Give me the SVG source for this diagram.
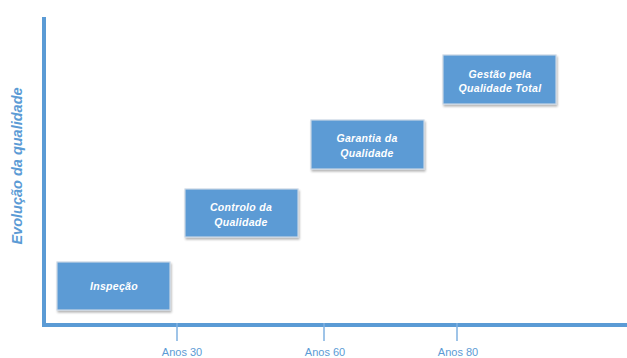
<svg xmlns="http://www.w3.org/2000/svg" width="627" height="358" viewBox="0 0 627 358">
<defs>
<filter id="sh" x="-10%" y="-10%" width="130%" height="130%">
<feGaussianBlur in="SourceAlpha" stdDeviation="1.2"/>
<feOffset dx="1" dy="1.5" result="b"/>
<feComponentTransfer><feFuncA type="linear" slope="0.3"/></feComponentTransfer>
<feMerge><feMergeNode/><feMergeNode in="SourceGraphic"/></feMerge>
</filter>
</defs>
<style>
.box{fill:#5b9bd5;stroke:#c9d6e4;stroke-width:1.2;filter:url(#sh)}
.lbl{font-family:"Liberation Sans",Arial,sans-serif;font-weight:bold;font-style:italic;font-size:10.5px;fill:#ffffff;text-anchor:middle;letter-spacing:0.3px}
.axis{stroke:#5b9bd5;stroke-width:4;fill:none}
.tick{stroke:#7fb0e0;stroke-width:1.5}
.yr{font-family:"Liberation Sans",Arial,sans-serif;font-size:11px;fill:#5b9bd5;text-anchor:middle}
.ttl{font-family:"Liberation Sans",Arial,sans-serif;font-weight:bold;font-style:italic;font-size:14.5px;fill:#5b9bd5;text-anchor:middle}
</style>
<rect width="627" height="358" fill="#ffffff"/>
<g id="connectors">
<polyline class="axis" points="44,17 44,325 627,325"/>
<line class="tick" x1="177" y1="323" x2="177" y2="341"/>
<line class="tick" x1="324" y1="323" x2="324" y2="341"/>
<line class="tick" x1="457" y1="323" x2="457" y2="341"/>
</g>
<g id="axis-labels">
<text class="ttl" transform="translate(22,166) rotate(-90)">Evolução da qualidade</text>
<text class="yr" x="182" y="355.5">Anos 30</text>
<text class="yr" x="325" y="355.5">Anos 60</text>
<text class="yr" x="458" y="355.5">Anos 80</text>
</g>
<g id="inspecao">
<rect class="box" x="57" y="262" width="113" height="48"/>
<text class="lbl" x="114" y="290">Inspeção</text>
</g>
<g id="controlo">
<rect class="box" x="185" y="189" width="113" height="48"/>
<text class="lbl" x="241" y="210.5">Controlo da</text>
<text class="lbl" x="241" y="225.5">Qualidade</text>
</g>
<g id="garantia">
<rect class="box" x="311" y="120" width="113" height="49"/>
<text class="lbl" x="367" y="142">Garantia da</text>
<text class="lbl" x="367" y="156.5">Qualidade</text>
</g>
<g id="gestao">
<rect class="box" x="443" y="55" width="113" height="49"/>
<text class="lbl" x="500" y="78">Gestão pela</text>
<text class="lbl" x="500" y="92">Qualidade Total</text>
</g>
</svg>
